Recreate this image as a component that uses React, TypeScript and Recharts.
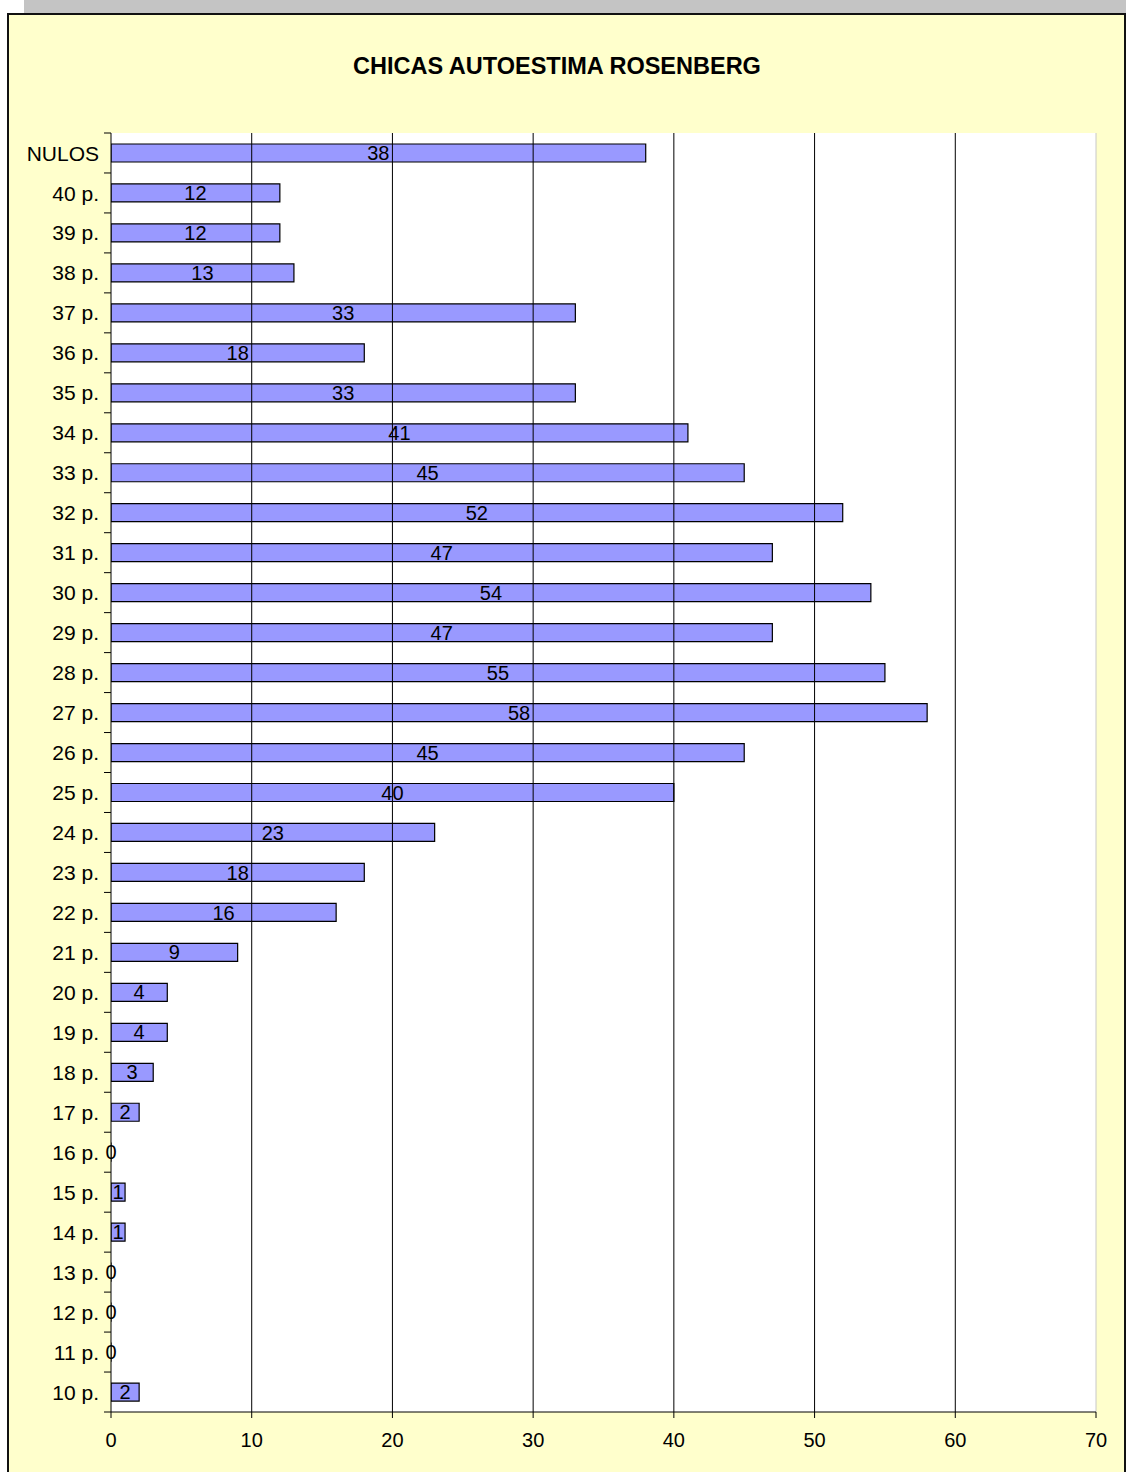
import React from "react";
import {
  BarChart,
  Bar,
  XAxis,
  YAxis,
  ReferenceLine,
  LabelList,
} from "recharts";

// categories top to bottom, as drawn
const categories = [
  "NULOS", "40 p.", "39 p.", "38 p.", "37 p.", "36 p.", "35 p.", "34 p.",
  "33 p.", "32 p.", "31 p.", "30 p.", "29 p.", "28 p.", "27 p.", "26 p.",
  "25 p.", "24 p.", "23 p.", "22 p.", "21 p.", "20 p.", "19 p.", "18 p.",
  "17 p.", "16 p.", "15 p.", "14 p.", "13 p.", "12 p.", "11 p.", "10 p.",
];

const counts = [
  38, 12, 12, 13, 33, 18, 33, 41,
  45, 52, 47, 54, 47, 55, 58, 45,
  40, 23, 18, 16, 9, 4, 4, 3,
  2, 0, 1, 1, 0, 0, 0, 2,
];

const xTicks = [0, 10, 20, 30, 40, 50, 60, 70];
const gridValues = [10, 20, 30, 40, 50, 60];

const data = categories.map((name, i) => ({ name, value: counts[i] }));

const FONT = "'Liberation Sans', Arial, sans-serif";
const CHART_W = 1126;
const CHART_H = 1472;
const MARGIN = { top: 133, right: 30, bottom: 20, left: 0 };
const Y_AXIS_W = 111;
const X_AXIS_H = 40;
const PLOT_H = CHART_H - MARGIN.top - MARGIN.bottom - X_AXIS_H;
const BAND = PLOT_H / categories.length;

function CategoryTick(props: any) {
  const { x, y, payload, index } = props;
  const axisX = x + 12;
  return (
    <g>
      <line x1={axisX - 7} x2={axisX} y1={y - BAND / 2} y2={y - BAND / 2} stroke="#000" />
      {index === categories.length - 1 && (
        <line x1={axisX - 7} x2={axisX} y1={y + BAND / 2} y2={y + BAND / 2} stroke="#000" />
      )}
      <text
        x={x}
        y={y}
        dy="0.36em"
        textAnchor="end"
        fontSize={21}
        fontFamily={FONT}
        fill="#000"
      >
        {payload.value}
      </text>
    </g>
  );
}

export default function App() {
  return (
    <div
      style={{
        position: "absolute",
        left: 0,
        top: 0,
        width: CHART_W,
        height: CHART_H,
        overflow: "hidden",
        background: "#fff",
      }}
    >
      <div
        style={{
          position: "absolute",
          left: 24,
          top: 0,
          width: 1102,
          height: 14,
          background: "#c4c4c4",
        }}
      />
      <div
        style={{
          position: "absolute",
          left: 7,
          top: 13,
          width: 1115,
          height: 1480,
          background: "#ffffcc",
          border: "2px solid #111",
        }}
      />
      <div
        style={{
          position: "absolute",
          left: 0,
          width: CHART_W,
          top: 52,
          textAlign: "center",
          fontFamily: FONT,
          fontWeight: "bold",
          fontSize: 23.5,
          lineHeight: "28px",
          color: "#000",
        }}
      >
        <span style={{ position: "relative", left: -6 }}>CHICAS AUTOESTIMA ROSENBERG</span>
      </div>
      <div style={{ position: "absolute", left: 0, top: 0 }}>
        <BarChart
          width={CHART_W}
          height={CHART_H}
          data={data}
          layout="vertical"
          margin={MARGIN}
          barCategoryGap={0}
        >
          <rect x={111} y={133} width={985} height={PLOT_H} fill="#fff" />
          <XAxis
            type="number"
            domain={[0, 70]}
            ticks={xTicks}
            interval={0}
            height={X_AXIS_H}
            stroke="#000"
            tickSize={6}
            tickMargin={15}
            tick={{ fontSize: 20, fontFamily: FONT, fill: "#000" }}
            allowDataOverflow
          />
          <YAxis
            type="category"
            dataKey="name"
            width={Y_AXIS_W}
            stroke="#000"
            tickLine={false}
            tickSize={0}
            tickMargin={12}
            interval={0}
            tick={<CategoryTick />}
          />
          {gridValues.map((v) => (
            <ReferenceLine key={v} x={v} stroke="#000" strokeWidth={1} />
          ))}
          <ReferenceLine x={70} stroke="#c8c8c8" strokeWidth={1} />
          <Bar
            dataKey="value"
            fill="#9999ff"
            stroke="#000"
            strokeWidth={1.2}
            barSize={18}
            minPointSize={0.01}
            isAnimationActive={false}
          >
            <LabelList
              dataKey="value"
              position="center"
              fill="#000"
              fontSize={20}
              fontFamily={FONT}
            />
          </Bar>
        </BarChart>
      </div>
    </div>
  );
}
